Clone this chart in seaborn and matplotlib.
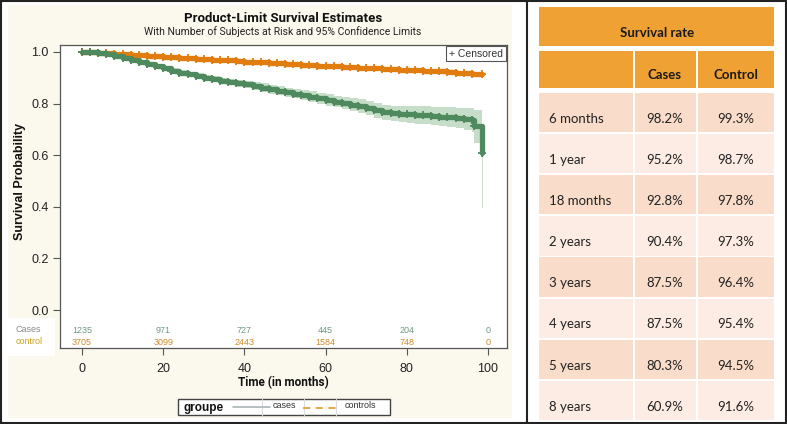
import numpy as np
import pandas as pd
import matplotlib.pyplot as plt
import seaborn as sns
from matplotlib.patches import Rectangle

# Kaplan-Meier estimates (months, survival, CI limits)
cases_time = [0, 2, 4, 6, 8, 10, 12, 14, 16, 18, 20, 22, 24, 26, 28, 30, 32, 34, 36, 38,
              40, 42, 44, 46, 48, 50, 52, 54, 56, 58, 60, 62, 64, 66, 68, 70, 72, 74, 76, 78,
              80, 82, 84, 86, 88, 90, 92, 94, 96, 96.5, 98.4]
cases_surv = [1.000, 0.998, 0.995, 0.991, 0.985, 0.978, 0.970, 0.962, 0.953, 0.946,
              0.938, 0.928, 0.920, 0.913, 0.906, 0.900, 0.894, 0.888, 0.884, 0.879,
              0.874, 0.869, 0.862, 0.856, 0.850, 0.844, 0.839, 0.833, 0.826, 0.820,
              0.814, 0.808, 0.802, 0.796, 0.790, 0.782, 0.774, 0.767, 0.762, 0.760,
              0.758, 0.756, 0.755, 0.752, 0.749, 0.747, 0.744, 0.740, 0.736, 0.712, 0.609]
cases_lower = [1.000, 0.996, 0.992, 0.987, 0.980, 0.972, 0.963, 0.955, 0.945, 0.937,
               0.929, 0.918, 0.910, 0.902, 0.895, 0.888, 0.882, 0.875, 0.871, 0.865,
               0.859, 0.854, 0.846, 0.839, 0.833, 0.826, 0.820, 0.813, 0.805, 0.799,
               0.792, 0.785, 0.778, 0.771, 0.764, 0.755, 0.746, 0.738, 0.732, 0.728,
               0.725, 0.722, 0.720, 0.716, 0.712, 0.709, 0.704, 0.698, 0.691, 0.647, 0.396]
cases_upper = [1.000, 1.000, 0.998, 0.995, 0.990, 0.984, 0.977, 0.969, 0.961, 0.955,
               0.947, 0.938, 0.930, 0.924, 0.917, 0.912, 0.906, 0.901, 0.897, 0.893,
               0.889, 0.884, 0.878, 0.873, 0.867, 0.862, 0.858, 0.853, 0.847, 0.841,
               0.836, 0.831, 0.826, 0.821, 0.816, 0.809, 0.802, 0.796, 0.792, 0.792,
               0.791, 0.790, 0.790, 0.788, 0.786, 0.785, 0.784, 0.782, 0.781, 0.775, 0.647]

control_time = [0, 2, 4, 6, 8, 10, 12, 14, 16, 18, 20, 22, 24, 26, 28, 30, 32, 34, 36, 38,
                40, 42, 44, 46, 48, 50, 52, 54, 56, 58, 60, 62, 64, 66, 68, 70, 72, 74, 76, 78,
                80, 82, 84, 86, 88, 90, 92, 94, 96, 98.5]
control_surv = [1.000, 0.999, 0.997, 0.995, 0.993, 0.991, 0.989, 0.987, 0.985, 0.983,
                0.981, 0.979, 0.977, 0.976, 0.974, 0.972, 0.970, 0.969, 0.967, 0.965,
                0.963, 0.962, 0.960, 0.958, 0.956, 0.955, 0.953, 0.951, 0.949, 0.947,
                0.945, 0.944, 0.942, 0.940, 0.939, 0.937, 0.936, 0.934, 0.933, 0.931,
                0.930, 0.929, 0.928, 0.927, 0.926, 0.924, 0.920, 0.917, 0.916, 0.916]

risk_times = [0, 20, 40, 60, 80, 100]
cases_at_risk = [1235, 971, 727, 445, 204, 0]
control_at_risk = [3705, 3099, 2443, 1584, 748, 0]

table_rows = ["6 months", "1 year", "18 months", "2 years", "3 years", "4 years", "5 years", "8 years"]
cases_rate = [98.2, 95.2, 92.8, 90.4, 87.5, 87.5, 80.3, 60.9]
control_rate = [99.3, 98.7, 97.8, 97.3, 96.4, 95.4, 94.5, 91.6]

GREEN = "#4f8a5e"
GREEN_BAND = "#c6dec9"
ORANGE = "#e07d0e"
ORANGE_BAND = "#f6c890"
HEAD = "#f0a133"
ROW_DARK = "#f9dcc9"
ROW_LIGHT = "#fdece3"

sns.set_theme(style="white")
plt.rcParams["font.family"] = ["Liberation Sans", "DejaVu Sans"]
narrow = ["Roboto", "Liberation Sans", "DejaVu Sans"]

W, H = 787, 424
fig = plt.figure(figsize=(7.87, 4.24), dpi=100)

# background canvas in pixel coordinates
bg = fig.add_axes([0, 0, 1, 1])
bg.set_xlim(0, W)
bg.set_ylim(H, 0)
bg.axis("off")
bg.add_patch(Rectangle((8, 5), 504, 413, color="#fbf8ee", lw=0))
bg.add_patch(Rectangle((8, 318), 47, 38, color="white", lw=0))
bg.add_patch(Rectangle((1, 1), 785, 422, fill=False, ec="#222222", lw=1.5))
bg.plot([527, 527], [1, 423], color="#222222", lw=1.5)


def px(x0, y0, x1, y1):
    return [x0 / W, 1 - y1 / H, (x1 - x0) / W, (y1 - y0) / H]


ax = fig.add_axes(px(60, 45, 507, 348))
ax.set_facecolor("white")

cases_df = pd.DataFrame({"time": cases_time, "surv": cases_surv})
control_df = pd.DataFrame({"time": control_time, "surv": control_surv})

# confidence bands
ax.fill_between(cases_time + [98.7], cases_lower + [cases_lower[-1]], cases_upper + [cases_upper[-1]],
                step="post", color=GREEN_BAND, lw=0)
ax.fill_between(control_df["time"], control_df["surv"] - 0.004, control_df["surv"] + 0.004,
                step="post", color=ORANGE_BAND, lw=0)

sns.lineplot(data=control_df, x="time", y="surv", color=ORANGE, drawstyle="steps-post",
             estimator=None, sort=False, lw=3.8, marker="+", markersize=5.5, mew=1.3,
             mec=ORANGE, ax=ax)
sns.lineplot(data=cases_df, x="time", y="surv", color=GREEN, drawstyle="steps-post",
             estimator=None, sort=False, lw=3.8, marker="+", markersize=5.5, mew=1.3,
             mec=GREEN, ax=ax)

ax.set_xlim(-5.42, 104.68)
ax.set_ylim(-0.147, 1.027)
ax.set_xticks([0, 20, 40, 60, 80, 100])
ax.set_yticks([0.0, 0.2, 0.4, 0.6, 0.8, 1.0])
ax.set_yticklabels([f"{v:.1f}" for v in [0.0, 0.2, 0.4, 0.6, 0.8, 1.0]])
ax.set_xlabel("")
ax.set_ylabel("")
ax.tick_params(direction="out", length=5, width=0.8, color="#555555", labelsize=9,
               labelcolor="#222222", pad=3, bottom=True, left=True)
ax.tick_params(axis="x", pad=6)
for sp in ax.spines.values():
    sp.set_color("#555555")
    sp.set_linewidth(0.9)

# numbers at risk
for t, n in zip(risk_times, cases_at_risk):
    ax.text(t, -0.078, str(n), ha="center", va="center", fontsize=6.5, color="#6f9a82")
for t, n in zip(risk_times, control_at_risk):
    ax.text(t, -0.124, str(n), ha="center", va="center", fontsize=6.5, color="#d08c2a")
fig.text(16 / W, 1 - 330 / H, "Cases", fontsize=6.5, color="#888888", va="center")
fig.text(16 / W, 1 - 342 / H, "control", fontsize=6.5, color="#c9a020", va="center")

ax.text(0.991, 0.988, "+ Censored", transform=ax.transAxes, ha="right", va="top",
        fontsize=7.5, color="#333333",
        bbox=dict(boxstyle="square,pad=0.25", fc="white", ec="#555555", lw=0.8))

fig.text(283 / W, 1 - 18 / H, "Product-Limit Survival Estimates", ha="center", va="center",
         fontsize=9.5, weight="bold", color="#111111", family=narrow)
fig.text(283 / W, 1 - 32 / H, "With Number of Subjects at Risk and 95% Confidence Limits",
         ha="center", va="center", fontsize=7.5, color="#222222", family=narrow)
fig.text(20 / W, 1 - 181 / H, "Survival Probability", rotation=90, ha="center", va="center",
         fontsize=9, weight="bold", color="#111111")
fig.text(283 / W, 1 - 383 / H, "Time (in months)", ha="center", va="center",
         fontsize=8.5, weight="bold", color="#111111", family=narrow)

# group legend at the bottom
bg.add_patch(Rectangle((178, 399), 212, 16, fc="white", ec="#444444", lw=1))
for xd in [262, 304, 336]:
    bg.plot([xd, xd], [399, 415], color="#dddddd", lw=0.8)
bg.text(183, 408, "groupe", fontsize=8.5, weight="bold", va="center", color="#111111")
bg.plot([233, 270], [407, 407], color="#a9b4b8", lw=1.2)
bg.text(273, 405, "cases", fontsize=6.5, va="center", color="#333333")
bg.plot([303, 340], [408, 408], color="#e3a43a", lw=1.3, ls=(0, (4, 3)))
bg.text(345, 405, "controls", fontsize=6.5, va="center", color="#333333")

# survival rate table
tfont = ["Lato", "DejaVu Sans"]
cols = [(539, 633), (635, 696), (698, 774)]
bg.add_patch(Rectangle((539, 7), 235, 39, color=HEAD, lw=0))
bg.text(657, 33, "Survival rate", ha="center", va="center", fontsize=9.5, weight="bold",
        family=tfont, color="#1a1a1a")
for x0, x1 in cols:
    bg.add_patch(Rectangle((x0, 51), x1 - x0, 37, color=HEAD, lw=0))
bg.text(665, 75, "Cases", ha="center", va="center", fontsize=9.5, weight="bold",
        family=tfont, color="#1a1a1a")
bg.text(736, 75, "Control", ha="center", va="center", fontsize=9.5, weight="bold",
        family=tfont, color="#1a1a1a")

for i, (lab, c, k) in enumerate(zip(table_rows, cases_rate, control_rate)):
    top = 93 + i * 41.1
    fc = ROW_DARK if i % 2 == 0 else ROW_LIGHT
    for x0, x1 in cols:
        bg.add_patch(Rectangle((x0, top), x1 - x0, 39.2, color=fc, lw=0))
    ty = top + 26
    bg.text(549, ty, lab, ha="left", va="center", fontsize=9.5, family=tfont, color="#222222")
    bg.text(665, ty, f"{c:.1f}%", ha="center", va="center", fontsize=9.5, family=tfont,
            color="#222222")
    bg.text(736, ty, f"{k:.1f}%", ha="center", va="center", fontsize=9.5, family=tfont,
            color="#222222")

fig.savefig("out.png", dpi=100)
